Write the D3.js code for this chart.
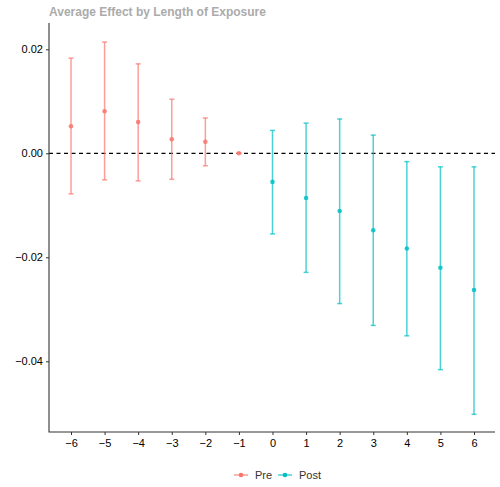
<!DOCTYPE html>
<html>
<head>
<meta charset="utf-8">
<script src="https://cdn.jsdelivr.net/npm/d3@7"></script>
<style>
  body { margin: 0; background: #fff; }
  text { font-family: "Liberation Sans", Arial, sans-serif; }
</style>
</head>
<body>
<svg id="chart" width="500" height="487"></svg>
<script>
// event times and estimates
var periods  = [-6, -5, -4, -3, -2, -1, 0, 1, 2, 3, 4, 5, 6];
var estimate = [0.0052, 0.0081, 0.0060, 0.0027, 0.0022, 0.0000, -0.0055, -0.0086, -0.0111, -0.0148, -0.0183, -0.0220, -0.0263];
var ciLow    = [-0.0078, -0.0051, -0.0053, -0.0050, -0.0024, 0.0000, -0.0155, -0.0229, -0.0289, -0.0331, -0.0351, -0.0416, -0.0502];
var ciHigh   = [0.0183, 0.0214, 0.0172, 0.0104, 0.0068, 0.0000, 0.0044, 0.0058, 0.0066, 0.0035, -0.0016, -0.0026, -0.0026];
var groups   = ["Pre", "Post"];
var yTicks   = [0.02, 0.00, -0.02, -0.04];

var colour = d3.scaleOrdinal().domain(groups).range(["#F8766D", "#00BFC4"]);

var svg = d3.select("#chart");
// panel edges (note: "top" is reserved on window, so keep these in an object)
var panel = { left: 49, right: 495, top: 23, bottom: 432 };

var x = d3.scaleLinear().domain([-6, 6]).range([71, 474]);
var y = d3.scaleLinear().domain([0.02506, -0.0536]).range([panel.top, panel.bottom]);

var rows = periods.map(function(p, i) {
  return { t: p, est: estimate[i], lo: ciLow[i], hi: ciHigh[i], group: p < 0 ? "Pre" : "Post" };
});

// title
svg.append("text")
  .attr("x", panel.left).attr("y", 16)
  .style("font-size", "12px").style("font-weight", "bold")
  .style("fill", "#ababab")
  .text("Average Effect by Length of Exposure");

// zero reference line
svg.append("line")
  .attr("x1", panel.left).attr("x2", panel.right)
  .attr("y1", y(0)).attr("y2", y(0))
  .style("stroke", "#000").style("stroke-width", 1.2)
  .style("stroke-dasharray", "4,3.5");

// error bars
var bars = svg.append("g").selectAll("g")
  .data(rows).enter().append("g")
  .style("stroke", function(d) { return colour(d.group); })
  .style("stroke-opacity", 0.7)
  .style("stroke-width", 1.5);

bars.append("line")
  .attr("x1", function(d) { return x(d.t); })
  .attr("x2", function(d) { return x(d.t); })
  .attr("y1", function(d) { return y(d.hi); })
  .attr("y2", function(d) { return y(d.lo); });
bars.append("line")
  .attr("x1", function(d) { return x(d.t) - 2.5; })
  .attr("x2", function(d) { return x(d.t) + 2.5; })
  .attr("y1", function(d) { return y(d.hi); })
  .attr("y2", function(d) { return y(d.hi); });
bars.append("line")
  .attr("x1", function(d) { return x(d.t) - 2.5; })
  .attr("x2", function(d) { return x(d.t) + 2.5; })
  .attr("y1", function(d) { return y(d.lo); })
  .attr("y2", function(d) { return y(d.lo); });

// points
svg.append("g").selectAll("circle")
  .data(rows).enter().append("circle")
  .attr("cx", function(d) { return x(d.t); })
  .attr("cy", function(d) { return y(d.est); })
  .attr("r", 2.3)
  .style("fill", function(d) { return colour(d.group); })
  .style("fill-opacity", 0.85);

// axes
var yAxis = svg.append("g")
  .attr("transform", "translate(" + panel.left + ",0)")
  .call(d3.axisLeft(y).tickValues(yTicks).tickSize(3).tickPadding(3)
    .tickFormat(function(d) { return d3.format(".2f")(d).replace("-", "\u2212"); }));
var xAxis = svg.append("g")
  .attr("transform", "translate(0," + panel.bottom + ")")
  .call(d3.axisBottom(x).tickValues(periods).tickSize(3).tickPadding(4)
    .tickFormat(function(d) { return String(d).replace("-", "\u2212"); }));

[yAxis, xAxis].forEach(function(a) {
  a.select(".domain").remove();
  a.selectAll(".tick line").style("stroke", "#333");
  a.selectAll(".tick text").style("fill", "#000").style("font-size", "11px");
});
svg.append("path")
  .attr("d", "M" + panel.left + "," + panel.top + "V" + panel.bottom + "H" + panel.right)
  .style("fill", "none").style("stroke", "#333").style("stroke-width", 1.1);

// legend
var legend = svg.append("g").selectAll("g")
  .data(groups).enter().append("g")
  .attr("transform", function(d, i) { return "translate(" + (241 + i * 44) + ",475)"; });
legend.append("line")
  .attr("x1", -7).attr("x2", 7)
  .style("stroke", function(d) { return colour(d); })
  .style("stroke-opacity", 0.7).style("stroke-width", 1.5);
legend.append("circle")
  .attr("r", 2.3)
  .style("fill", function(d) { return colour(d); });
legend.append("text")
  .attr("x", 14).attr("dy", "0.35em")
  .style("font-size", "11px").style("fill", "#333")
  .text(function(d) { return d; });
</script>
</body>
</html>
